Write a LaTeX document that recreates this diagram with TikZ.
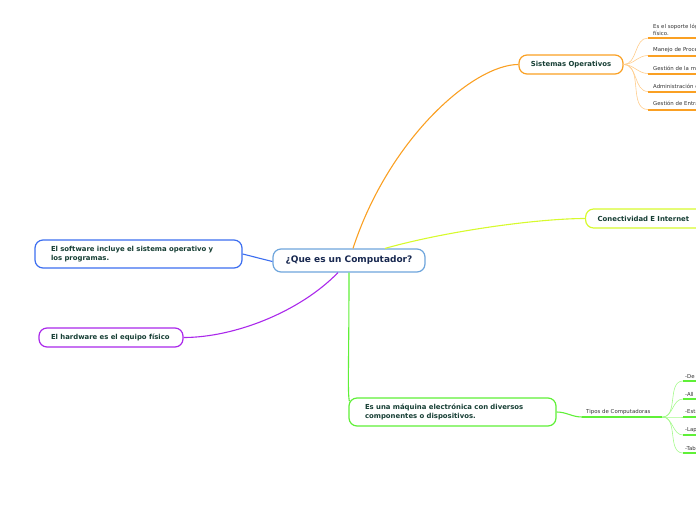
\documentclass[tikz,border=0pt]{standalone}
\usepackage{fontspec}
\setmainfont{DejaVu Sans}
\usetikzlibrary{positioning}
\definecolor{inkdark}{RGB}{22,62,52}
\definecolor{inknavy}{RGB}{24,40,80}
\definecolor{rootblue}{RGB}{110,165,220}
\definecolor{sisorange}{RGB}{250,160,35}
\definecolor{sisorangelt}{RGB}{255,205,140}
\definecolor{netyellow}{RGB}{215,250,45}
\definecolor{swblue}{RGB}{60,110,240}
\definecolor{hwpurple}{RGB}{170,40,235}
\definecolor{pcgreen}{RGB}{95,240,55}
\definecolor{pcgreenlt}{RGB}{165,250,140}
\tikzset{
  topicbox/.style={draw, line width=1.2pt, rounded corners=8pt, fill=white, align=left, inner xsep=0pt,
    font=\fontsize{6.9}{8.4}\selectfont\bfseries, text=inkdark},
  rootbox/.style={draw=rootblue, line width=1.2pt, rounded corners=8pt, fill=white, align=center,
    minimum width=152pt, minimum height=23pt, font=\fontsize{9}{10}\selectfont\bfseries, text=inknavy},
  leaf/.style={anchor=south west, inner xsep=5pt, inner ysep=2.5pt, align=left, text width=90pt,
    font=\fontsize{5.4}{6.4}\selectfont, text=black!80},
  link/.style={line width=1.1pt},
  under/.style={line width=2pt},
  fan/.style={line width=0.6pt}
}
\begin{document}
\begin{tikzpicture}[x=1pt, y=-1pt]
  \useasboundingbox (0,0) rectangle (696,520);
  \clip (0,0) rectangle (696,520);

  \node[rootbox] (root) at (349,260.5) {¿Que es un Computador?};

  \node[topicbox, draw=sisorange, minimum width=104pt, minimum height=19pt, align=center] (sisop) at (571,64.5) {Sistemas Operativos};
  \node[topicbox, draw=netyellow, minimum height=19pt, inner xsep=12pt, text width=126pt, anchor=west] (conect) at (585,218.5) {Conectividad E Internet};
  \node[topicbox, draw=swblue, minimum height=28pt, inner xsep=16pt, text width=175pt] (softw) at (138.5,254) {El software incluye el sistema operativo y\\los programas.};
  \node[topicbox, draw=hwpurple, minimum height=19pt, inner xsep=12pt, text width=120pt] (hardw) at (111,337.5) {El hardware es el equipo físico};
  \node[topicbox, draw=pcgreen, minimum height=28pt, inner xsep=16pt, text width=175pt] (maquina) at (452.5,412) {Es una máquina electrónica con diversos\\componentes o dispositivos.};

  % sistemas operativos
  \node[leaf] (so1) at (648,38) {Es el soporte lógico del equipo\\físico.};
  \node[leaf] (so2) at (648,55.5) {Manejo de Procesos};
  \node[leaf] (so3) at (648,73.5) {Gestión de la memoria};
  \node[leaf] (so4) at (648,91.5) {Administración de archivos};
  \node[leaf] (so5) at (648,109.5) {Gestión de Entrada y Salida};

  % tipos de computadoras
  \node[leaf, inner xsep=4pt, text width=72pt] (tipos) at (582,417) {Tipos de Computadoras};
  \node[leaf, inner xsep=2pt] (tc1) at (683,381) {-De escritorio};
  \node[leaf, inner xsep=2pt] (tc2) at (683,399) {-All in one};
  \node[leaf, inner xsep=2pt] (tc3) at (683,417) {-Estaciones de trabajo};
  \node[leaf, inner xsep=2pt] (tc4) at (683,435) {-Laptop};
  \node[leaf, inner xsep=2pt] (tc5) at (683,453) {-Tablet};

  % ramas principales
  \draw[link, sisorange] ([xshift=4pt]root.north) .. controls ([xshift=40pt,yshift=110pt]root.north) and ([xshift=-45pt]sisop.west) .. (sisop.west);
  \draw[link, netyellow] ([xshift=36pt]root.north) .. controls ([xshift=100pt,yshift=18pt]root.north) and ([xshift=-45pt]conect.west) .. (conect.west);
  \draw[link, swblue] ([yshift=-1pt]root.west) -- (softw.east);
  \draw[link, hwpurple] ([xshift=-11pt]root.south) .. controls ([xshift=-50pt,yshift=-40pt]root.south) and ([xshift=50pt]hardw.east) .. (hardw.east);
  \draw[link, pcgreen] (root.south) .. controls ([yshift=-90pt]root.south) and ([xshift=-1pt,yshift=20pt]maquina.west) .. ([xshift=1pt,yshift=-4pt]maquina.north west);
  \draw[link, pcgreen] (maquina.east) to[out=0, in=180] (tipos.south west);

  \foreach \n in {so1,so2,so3,so4,so5} {
    \draw[fan, sisorangelt] (sisop.east) to[out=0, in=180] (\n.south west);
    \draw[under, sisorange] (\n.south west) -- (\n.south east);
  }
  \draw[under, pcgreen] (tipos.south west) -- (tipos.south east);
  \foreach \n in {tc1,tc2,tc3,tc4,tc5} {
    \draw[fan, pcgreenlt] (tipos.south east) to[out=0, in=180] (\n.south west);
    \draw[under, pcgreen] (\n.south west) -- (\n.south east);
  }
\end{tikzpicture}
\end{document}
